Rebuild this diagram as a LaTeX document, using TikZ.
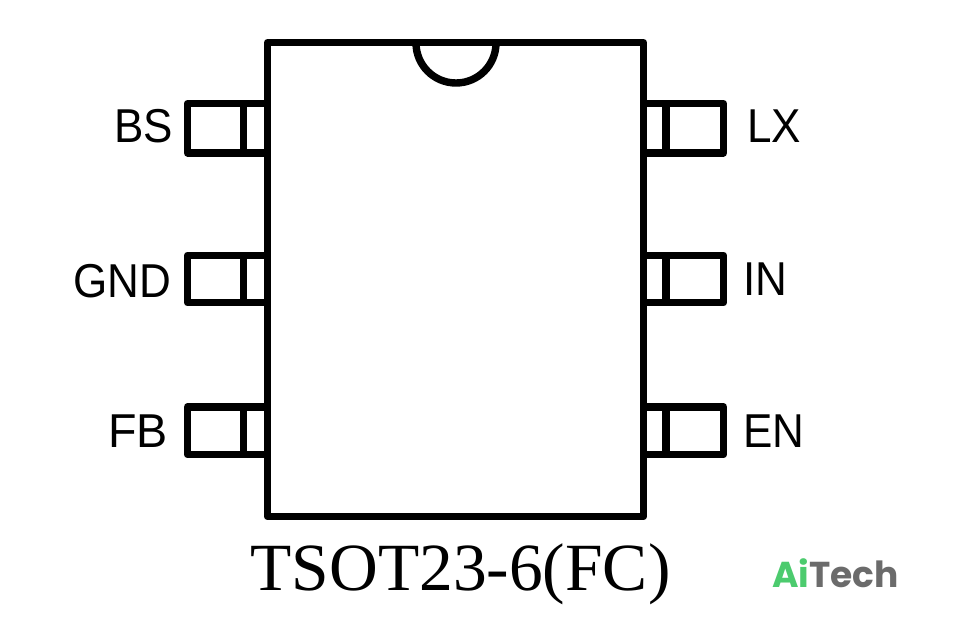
\documentclass[tikz,border=0pt]{standalone}
\usepackage{fontspec}
\setmainfont{Liberation Sans}
\newfontfamily\titlefont{Liberation Serif}
\newfontfamily\markfont{Poppins}
\definecolor{markgreen}{HTML}{4CCB6E}
\definecolor{markgray}{HTML}{6B6B6B}
\begin{document}
\begin{tikzpicture}[x=1pt, y=1pt,
    box/.style = {draw, line width=7.4pt, line join=round, rectangle, inner sep=0pt, outer sep=0pt},
    chip/.style = {box, minimum width=376pt, minimum height=473.8pt},
    lead/.style = {box, minimum width=56.2pt, minimum height=47.5pt, node distance=40pt},
    stub/.style = {box, minimum width=23.8pt, minimum height=47.5pt},
    pinname/.style = {font=\fontsize{44}{44}\selectfont, inner sep=0pt, transform shape, yscale=1.08}]
    \useasboundingbox (0,0) rectangle (964,-631);
    \node[chip] (body) at (455.5,-279.6) {};
    \coordinate (notch) at (456,-43);
    \draw[line width=7.4pt] ([xshift=-40pt]notch) arc[start angle=180, end angle=360, radius=40pt];
    % left side
    \node[stub, minimum height=49.3pt] (s1) at (255.6,-128.3) {};
    \node[stub, node distance=150.7pt] (s2) [below of=s1] {};
    \node[stub, node distance=151.75pt] (s3) [below of=s2] {};
    \node[lead, minimum height=49.3pt] (l1) [left of=s1] {};
    \node[lead] (l2) [left of=s2] {};
    \node[lead] (l3) [left of=s3] {};
    % right side
    \node[stub, minimum width=22.5pt, minimum height=49.3pt] (s4) at (654.75,-128.3) {};
    \node[stub, minimum width=22.5pt, node distance=150.7pt] (s5) [below of=s4] {};
    \node[stub, minimum width=22.5pt, node distance=151.75pt] (s6) [below of=s5] {};
    \node[lead, minimum width=57.5pt, minimum height=49.3pt] (l4) [right of=s4] {};
    \node[lead, minimum width=57.5pt] (l5) [right of=s5] {};
    \node[lead, minimum width=57.5pt] (l6) [right of=s6] {};
    % pin names
    \node[pinname, anchor=east] (bs) at (173,-126) {BS};
    \node[pinname, anchor=east] (gnd) at (171,-281) {GND};
    \node[pinname, anchor=east, xscale=1.06] (fb) at (168,-431) {FB};
    \node[pinname, anchor=west] (lx) at (747,-126) {LX};
    \node[pinname, anchor=west] (in) at (743,-279) {IN};
    \node[pinname, anchor=west] (en) at (743,-431) {EN};
    \node[font=\titlefont\fontsize{67.5}{67.5}\selectfont, inner sep=0pt] (title) at (460.5,-574) {TSOT23-6(FC)};
    \node[font=\markfont\bfseries\fontsize{36}{36}\selectfont, inner sep=0pt, anchor=west] (mark) at (772,-573)
        {\textcolor{markgreen}{Ai}\textcolor{markgray}{Tech}};
\end{tikzpicture}
\end{document}
